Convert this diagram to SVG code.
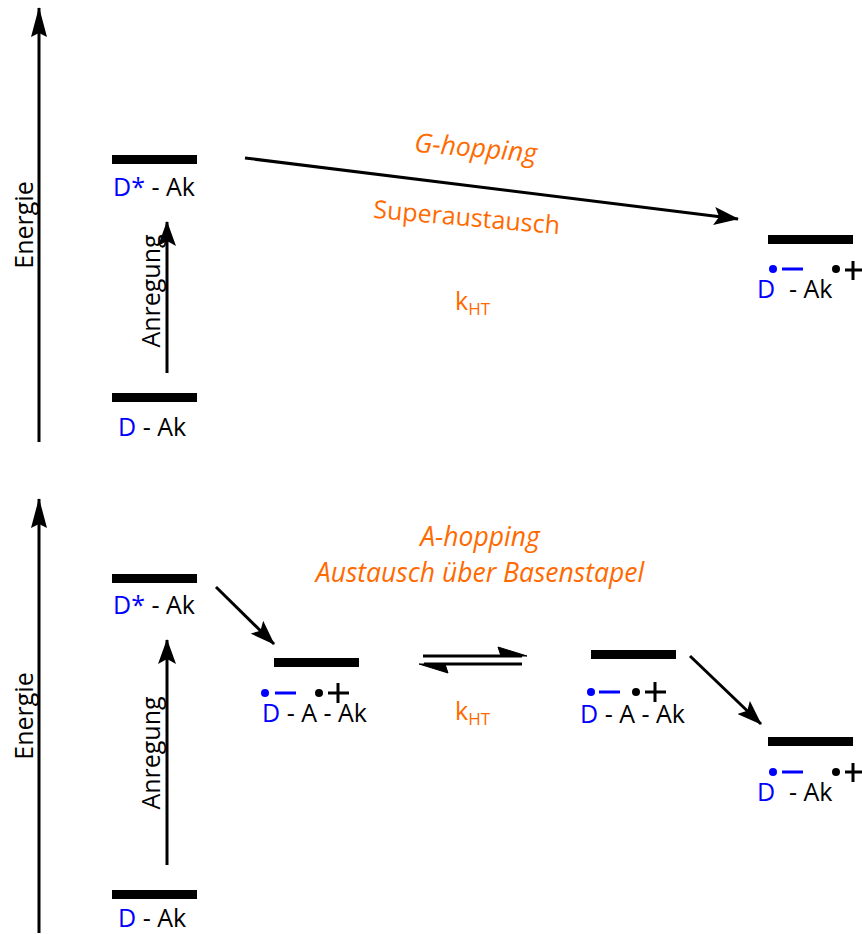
<svg xmlns="http://www.w3.org/2000/svg" width="862" height="934" viewBox="0 0 862 934">
<style>
text{font-family:"Open Sans","Noto Sans","DejaVu Sans",sans-serif;font-size:25px;fill:#000}
.b{fill:#0000ff}
.o{fill:#ff6a00}
.i{font-style:italic;font-size:26.5px}
.bar{fill:#000}
.ln{stroke:#000;stroke-width:3;fill:none}
.ax{stroke:#000;stroke-width:3;fill:none}
</style>
<defs>
<marker id="ah" markerUnits="userSpaceOnUse" markerWidth="26" markerHeight="18" viewBox="0 0 26 18" refX="24" refY="9" orient="auto">
<path d="M0,0 L25,9 L0,18 L5,9 Z" fill="#000"/>
</marker>
<marker id="axh" markerUnits="userSpaceOnUse" markerWidth="30" markerHeight="16" viewBox="0 0 30 16" refX="29" refY="8" orient="auto">
<path d="M0,0 L30,8 L0,16 L4,8 Z" fill="#000"/>
</marker>
</defs>

<g id="axis-top">
<line class="ax" x1="39" y1="442" x2="39" y2="8" marker-end="url(#axh)"/>
<text transform="translate(33,225) rotate(-90)" text-anchor="middle">Energie</text>
</g>
<g id="axis-bottom">
<line class="ax" x1="39" y1="933" x2="39" y2="499" marker-end="url(#axh)"/>
<text transform="translate(33,716) rotate(-90)" text-anchor="middle">Energie</text>
</g>

<g id="top-Dstar">
<rect class="bar" x="112" y="155" width="85" height="9"/>
<text x="113" y="196"><tspan class="b">D*</tspan> - Ak</text>
</g>
<g id="top-D">
<rect class="bar" x="112" y="393" width="85" height="9"/>
<text x="118" y="436"><tspan class="b">D</tspan> - Ak</text>
</g>
<g id="top-CS">
<rect class="bar" x="768" y="235" width="85" height="9"/>
<circle cx="773" cy="269" r="4" fill="#0000ff"/>
<line x1="782" y1="269" x2="803" y2="269" stroke="#0000ff" stroke-width="3"/>
<circle cx="836" cy="269" r="4" fill="#000"/>
<path d="M845,270 H862 M853,261 V280" stroke="#000" stroke-width="3"/>
<text x="757" y="298"><tspan class="b">D</tspan><tspan x="789">- Ak</tspan></text>
</g>

<g id="bot-Dstar">
<rect class="bar" x="112" y="574" width="85" height="9"/>
<text x="113" y="614"><tspan class="b">D*</tspan> - Ak</text>
</g>
<g id="bot-D">
<rect class="bar" x="112" y="890" width="85" height="9"/>
<text x="118" y="927"><tspan class="b">D</tspan> - Ak</text>
</g>
<g id="bot-DA1">
<rect class="bar" x="274" y="658" width="85" height="9"/>
<circle cx="265" cy="693" r="4" fill="#0000ff"/>
<line x1="275" y1="693" x2="296" y2="693" stroke="#0000ff" stroke-width="3"/>
<circle cx="319" cy="693" r="4" fill="#000"/>
<path d="M328,693 H349 M338,683 V703" stroke="#000" stroke-width="3"/>
<text x="262" y="722"><tspan class="b">D</tspan> - A - Ak</text>
</g>
<g id="bot-DA2">
<rect class="bar" x="591" y="650" width="85" height="9"/>
<circle cx="591" cy="692" r="4" fill="#0000ff"/>
<line x1="599" y1="692" x2="620" y2="692" stroke="#0000ff" stroke-width="3"/>
<circle cx="636" cy="692" r="4" fill="#000"/>
<path d="M645,692 H666 M655,682 V702" stroke="#000" stroke-width="3"/>
<text x="580" y="723"><tspan class="b">D</tspan> - A - Ak</text>
</g>
<g id="bot-CS">
<rect class="bar" x="768" y="737" width="85" height="9"/>
<circle cx="773" cy="772" r="4" fill="#0000ff"/>
<line x1="782" y1="772" x2="803" y2="772" stroke="#0000ff" stroke-width="3"/>
<circle cx="836" cy="772" r="4" fill="#000"/>
<path d="M845,772 H862 M853,763 V782" stroke="#000" stroke-width="3"/>
<text x="757" y="801"><tspan class="b">D</tspan><tspan x="789">- Ak</tspan></text>
</g>

<g id="connectors">
<line class="ln" x1="167" y1="373" x2="167" y2="222" marker-end="url(#ah)"/>
<line class="ln" x1="245" y1="158" x2="738" y2="219" marker-end="url(#ah)"/>
<line class="ln" x1="167" y1="865" x2="167" y2="640" marker-end="url(#ah)"/>
<line class="ln" x1="216" y1="587" x2="274" y2="644" marker-end="url(#ah)"/>
<line class="ln" x1="690" y1="656" x2="761" y2="724" marker-end="url(#ah)"/>
<line class="ln" x1="423" y1="656" x2="522" y2="656"/>
<path d="M527,656 L498,647 L501,656 Z" fill="#000" stroke="#000" stroke-width="1"/>
<line class="ln" x1="424" y1="664" x2="522" y2="664"/>
<path d="M419,664 L448,673 L445,664 Z" fill="#000" stroke="#000" stroke-width="1"/>
</g>

<g id="labels">
<text transform="translate(160,291) rotate(-90)" text-anchor="middle">Anregung</text>
<text transform="translate(160,753) rotate(-90)" text-anchor="middle">Anregung</text>
<text class="o i" transform="translate(475,157) rotate(5)" text-anchor="middle">G-hopping</text>
<text class="o" transform="translate(466,226) rotate(5)" text-anchor="middle">Superaustausch</text>
<text class="o" x="455" y="310">k<tspan font-size="17" dy="5">HT</tspan></text>
<text class="o i" x="480" y="546" text-anchor="middle">A-hopping</text>
<text class="o i" x="480" y="582" text-anchor="middle">Austausch über Basenstapel</text>
<text class="o" x="455" y="720">k<tspan font-size="17" dy="5">HT</tspan></text>
</g>
</svg>
